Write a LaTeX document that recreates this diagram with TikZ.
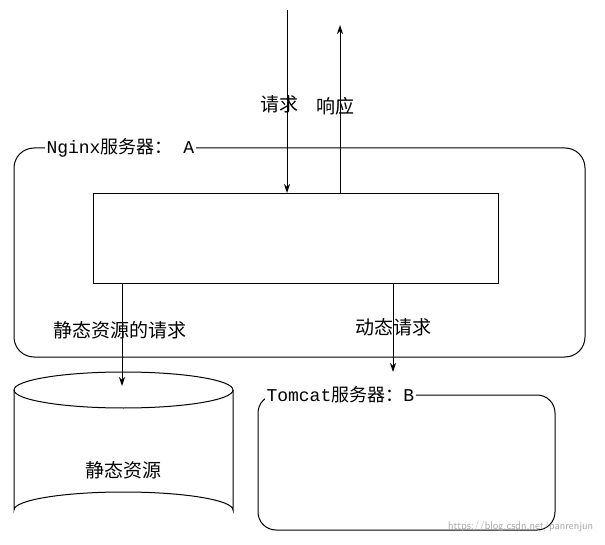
\documentclass[tikz,border=0pt]{standalone}
\usepackage{fontspec}
\setmonofont{Liberation Mono}
\newfontfamily\cjk{Noto Sans CJK SC}
\usetikzlibrary{arrows.meta}
\begin{document}
\begin{tikzpicture}[x=1pt,y=-1pt,line width=1pt,
  lbl/.style={font=\cjk\fontsize{19}{21}\selectfont,inner sep=1pt},
  ttl/.style={font=\fontsize{18}{20}\selectfont,fill=white,inner sep=2pt},
  arr/.style={-{Stealth[length=9pt,width=6pt]}}]
\useasboundingbox (0,0) rectangle (605,545);
\draw[rounded corners=20] (14,148) rectangle (585,357);
\node[ttl,anchor=west] (ng) at (44,148) {\ttfamily Nginx\cjk 服务器：\ttfamily~A};
\node[draw,minimum width=405pt,minimum height=90pt,anchor=north west,inner sep=0] (inner) at (93,193) {};
\coordinate (rqs) at (287,10);
\coordinate (rst) at (340,25);
\draw[arr] (rqs) -- (287,193);
\draw[arr] (340,193) -- (rst);
\node[lbl] (rq) at (279,104) {请求};
\node[lbl] (rs) at (335,106) {响应};
% cylinder
\draw (14,390) -- (14,510) arc[start angle=180,end angle=360,x radius=109.5,y radius=18] -- (233,390);
\draw (123.5,390) ellipse[x radius=109.5,y radius=18];
\node[lbl] (cyl) at (123.5,470) {静态资源};
\draw[rounded corners=18] (258,395) rectangle (555,530);
\node[ttl,anchor=west] (tc) at (264,395) {\ttfamily Tomcat\cjk 服务器：\ttfamily B};
\draw[arr] (122,283) -- (122,386);
\draw[arr] (393,283) -- (393,372);
\node[lbl] (l1) at (120,330) {静态资源的请求};
\node[lbl] (l2) at (393,327) {动态请求};
\node[font=\sffamily\fontsize{11}{12}\selectfont,text=gray!70,anchor=east] (wm) at (597,527) {https://blog.csdn.net/panrenjun};
\end{tikzpicture}
\end{document}
